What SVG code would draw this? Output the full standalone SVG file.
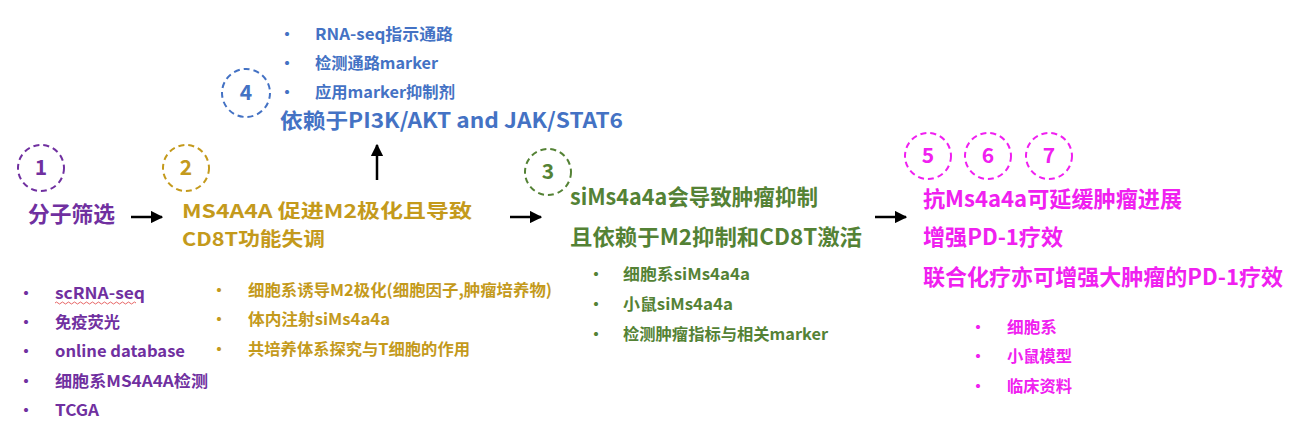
<svg xmlns="http://www.w3.org/2000/svg" width="1300" height="442" viewBox="0 0 1300 442">
<defs>
<marker id="ah" viewBox="0 0 10 10" refX="9" refY="5" markerWidth="5" markerHeight="5" orient="auto"><path d="M0,0 L10,5 L0,10 z" fill="#000"/></marker>
<style>
text{font-family:"Noto Sans CJK SC","Noto Sans",sans-serif;font-weight:bold}
.h{font-size:22px}
.b{font-size:16px}
.n{font-size:21px;text-anchor:middle}
.c{fill:none;stroke-width:2;stroke-dasharray:6 4}
.p{fill:#7030A0}.g{fill:#C49A1C}.bl{fill:#4472C4}.gr{fill:#548235}.m{fill:#F020F0}
.cp{stroke:#7030A0}.cg{stroke:#C49A1C}.cb{stroke:#4472C4}.cgr{stroke:#548235}.cm{stroke:#F020F0}
.arr{stroke:#000;stroke-width:2.5;fill:none;marker-end:url(#ah)}
</style>
</defs>
<rect width="1300" height="442" fill="#fff"/>
<g id="node1">
<circle class="c cp" cx="41" cy="168" r="23"/>
<text class="n p" x="41" y="175">1</text>
<text class="h p" x="28" y="222" textLength="87" lengthAdjust="spacingAndGlyphs">分子筛选</text>
<g class="b p">
<text x="18" y="299">·</text><text x="55" y="299" textLength="90" lengthAdjust="spacingAndGlyphs">scRNA-seq</text>
<text x="18" y="328">·</text><text x="55" y="328" textLength="65" lengthAdjust="spacingAndGlyphs">免疫荧光</text>
<text x="18" y="357">·</text><text x="55" y="357" textLength="130" lengthAdjust="spacingAndGlyphs">online database</text>
<text x="18" y="387">·</text><text x="55" y="387" textLength="153" lengthAdjust="spacingAndGlyphs">细胞系MS4A4A检测</text>
<text x="18" y="416">·</text><text x="55" y="416" textLength="44" lengthAdjust="spacingAndGlyphs">TCGA</text>
</g>
<path d="M55,303 q1.5,-2 3,0 t3,0 t3,0 t3,0 t3,0 t3,0 t3,0 t3,0 t3,0 t3,0 t3,0 t3,0 t3,0 t3,0 t3,0 t3,0 t3,0 t3,0 t3,0 t3,0 t3,0 t3,0 t3,0 t3,0 t3,0 t3,0 t3,0" fill="none" stroke="#E04040" stroke-width="0.8"/>
</g>
<g id="node2">
<circle class="c cg" cx="186" cy="168" r="23"/>
<text class="n g" x="186" y="175">2</text>
<text class="h g" x="182" y="218" style="font-size:19px" textLength="290" lengthAdjust="spacingAndGlyphs">MS4A4A 促进M2极化且导致</text>
<text class="h g" x="182" y="246" style="font-size:19px" textLength="143" lengthAdjust="spacingAndGlyphs">CD8T功能失调</text>
<g class="b g">
<text x="211" y="296">·</text><text x="248" y="296" textLength="304" lengthAdjust="spacingAndGlyphs">细胞系诱导M2极化(细胞因子,肿瘤培养物)</text>
<text x="211" y="325">·</text><text x="248" y="325" textLength="142" lengthAdjust="spacingAndGlyphs">体内注射siMs4a4a</text>
<text x="211" y="355">·</text><text x="248" y="355" textLength="222" lengthAdjust="spacingAndGlyphs">共培养体系探究与T细胞的作用</text>
</g>
</g>
<g id="node4">
<circle class="c cb" cx="246" cy="93" r="24"/>
<text class="n bl" x="246" y="100">4</text>
<text class="h bl" x="280" y="128" style="font-size:21px" textLength="343" lengthAdjust="spacingAndGlyphs">依赖于PI3K/AKT and JAK/STAT6</text>
<g class="b bl">
<text x="279" y="40">·</text><text x="315" y="40" textLength="138" lengthAdjust="spacingAndGlyphs">RNA-seq指示通路</text>
<text x="279" y="69">·</text><text x="315" y="69" textLength="123" lengthAdjust="spacingAndGlyphs">检测通路marker</text>
<text x="279" y="98">·</text><text x="315" y="98" textLength="140" lengthAdjust="spacingAndGlyphs">应用marker抑制剂</text>
</g>
</g>
<g id="node3">
<circle class="c cgr" cx="548" cy="172" r="23"/>
<text class="n gr" x="548" y="179">3</text>
<text class="h gr" x="570" y="205" textLength="248" lengthAdjust="spacingAndGlyphs">siMs4a4a会导致肿瘤抑制</text>
<text class="h gr" x="570" y="245" textLength="292" lengthAdjust="spacingAndGlyphs">且依赖于M2抑制和CD8T激活</text>
<g class="b gr">
<text x="588" y="280">·</text><text x="623" y="280" textLength="127" lengthAdjust="spacingAndGlyphs">细胞系siMs4a4a</text>
<text x="588" y="310">·</text><text x="623" y="310" textLength="110" lengthAdjust="spacingAndGlyphs">小鼠siMs4a4a</text>
<text x="588" y="340">·</text><text x="623" y="340" textLength="205" lengthAdjust="spacingAndGlyphs">检测肿瘤指标与相关marker</text>
</g>
</g>
<g id="node567">
<circle class="c cm" cx="928" cy="156" r="23"/>
<text class="n m" x="928" y="163">5</text>
<circle class="c cm" cx="988" cy="156" r="23"/>
<text class="n m" x="988" y="163">6</text>
<circle class="c cm" cx="1049" cy="156" r="23"/>
<text class="n m" x="1049" y="163">7</text>
<text class="h m" x="923" y="207" textLength="259" lengthAdjust="spacingAndGlyphs">抗Ms4a4a可延缓肿瘤进展</text>
<text class="h m" x="923" y="245" textLength="140" lengthAdjust="spacingAndGlyphs">增强PD-1疗效</text>
<text class="h m" x="923" y="285" textLength="360" lengthAdjust="spacingAndGlyphs">联合化疗亦可增强大肿瘤的PD-1疗效</text>
<g class="b m">
<text x="970" y="333">·</text><text x="1007" y="333" textLength="50" lengthAdjust="spacingAndGlyphs">细胞系</text>
<text x="970" y="362">·</text><text x="1007" y="362" textLength="65" lengthAdjust="spacingAndGlyphs">小鼠模型</text>
<text x="970" y="392">·</text><text x="1007" y="392" textLength="65" lengthAdjust="spacingAndGlyphs">临床资料</text>
</g>
</g>
<g id="connectors">
<line class="arr" x1="131" y1="217" x2="162" y2="217"/>
<line class="arr" x1="377" y1="180" x2="377" y2="145"/>
<line class="arr" x1="510" y1="217" x2="541" y2="217"/>
<line class="arr" x1="875" y1="217" x2="906" y2="217"/>
</g>
</svg>
